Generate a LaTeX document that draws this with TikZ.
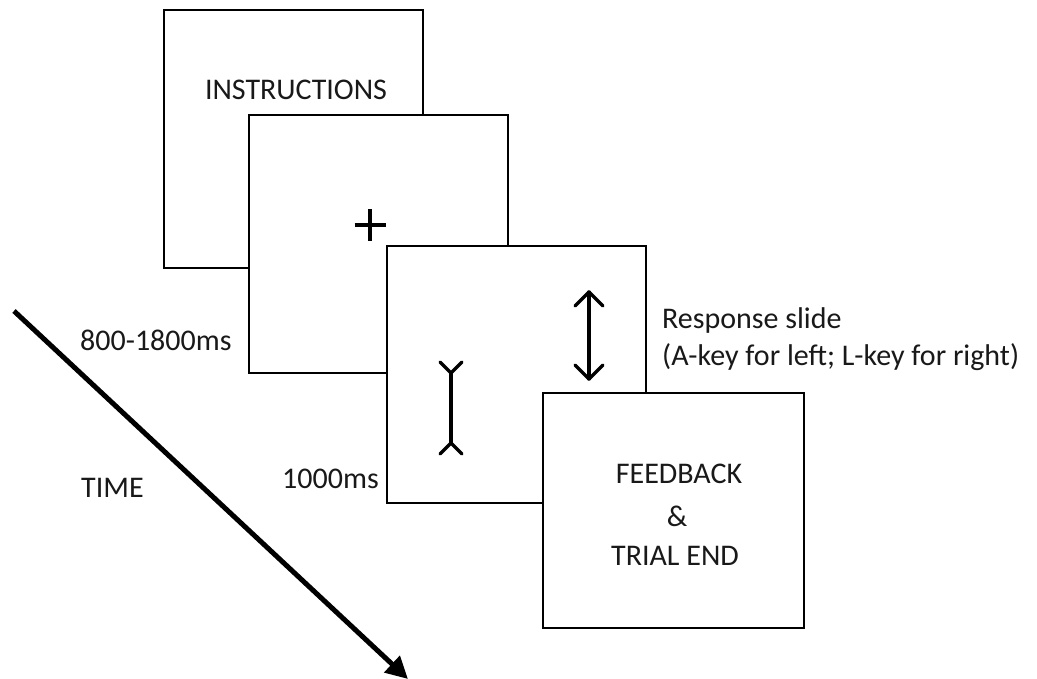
\documentclass[tikz,border=0pt]{standalone}
\usepackage{fontspec}
\setmainfont{Carlito}
\usetikzlibrary{arrows.meta}
\tikzset{
  slide/.style={draw=black, line width=2pt, fill=white},
  lbl/.style={inner sep=0pt, anchor=base, font=\fontsize{30}{30}\selectfont, text=black!90},
  lblw/.style={lbl, anchor=base west},
  stim/.style={line width=3.5pt, line cap=round, line join=round},
  timearrow/.style={line width=5pt, -{Triangle[length=22pt,width=22pt]}}
}
\begin{document}
\begin{tikzpicture}[x=1pt,y=-1pt]
\useasboundingbox[fill=white] (0,0) rectangle (1037,679);
% slides
\draw[slide] (164,10) rectangle (423,268);
\node[lbl] (instr) at (296,100) {INSTRUCTIONS};
\draw[slide] (249,115) rectangle (508,373);
\coordinate (fx) at (370,225);
\draw[line width=4.5pt] ([xshift=-15.5pt]fx) -- ([xshift=15.5pt]fx) ([yshift=-16pt]fx) -- ([yshift=16pt]fx);
\draw[slide] (387,246) rectangle (646,503);
% Mueller-Lyer stimulus
\coordinate (mt) at (451,373);
\coordinate (mb) at (451,443);
\draw[stim] (mt) -- (mb);
\draw[stim] (440,362) -- (mt) -- (462,362);
\draw[stim] (440,454) -- (mb) -- (462,454);
% double arrow
\coordinate (at) at (589,292);
\coordinate (ab) at (589,379);
\draw[stim] (at) -- (ab);
\draw[stim] (575,306) -- (at) -- (603,306);
\draw[stim] (575,365) -- (ab) -- (603,365);
\draw[slide] (543,393) rectangle (804,628);
\node[lbl] (fb) at (679,483) {FEEDBACK};
\node[lbl] (amp) at (677,526) {\&};
\node[lbl] (te) at (675,565) {TRIAL END};
% labels
\node[lblw] (resp) at (662,329) {Response slide};
\node[lblw] (keys) at (662,366) {(A-key for left; L-key for right)};
\node[lblw] (t1) at (80,350) {800-1800ms};
\node[lblw] (t2) at (282,488) {1000ms};
\node[lblw] (time) at (81,497) {TIME};
% time arrow
\coordinate (ts) at (14,311);
\coordinate (tend) at (408,679);
\draw[timearrow] (ts) -- (tend);
\end{tikzpicture}
\end{document}
